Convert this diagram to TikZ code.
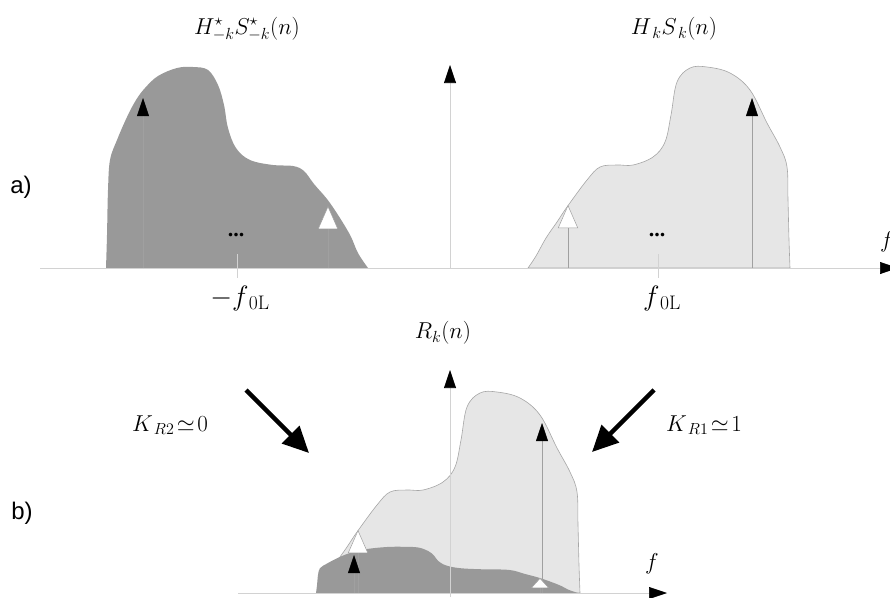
\RequirePackage{fix-cm}
\documentclass[tikz,border=0pt]{standalone}
\usepackage{fontspec}
\newfontfamily\labelfont{Liberation Sans}
\newfontfamily\dotfont{Liberation Serif}
\usetikzlibrary{arrows.meta}
\usepackage{xcolor}
\definecolor{DarkBand}{HTML}{999999}
\definecolor{LightBand}{HTML}{E6E6E6}
\definecolor{BandEdge}{HTML}{A6A6A6}
\definecolor{StemGray}{HTML}{A0A0A0}
\definecolor{AxisGray}{HTML}{D2D2D2}

% spectrum outlines, pixel coordinates, baseline at y=268
\newcommand{\negspectrum}{plot[smooth, tension=0.6] coordinates {
    (106,268) (107,235) (108,190) (110,160) (117,140) (127,117) (136,100)
    (145,88) (158,76) (177,68) (193,67) (208,70) (218,85) (224,105)
    (228,128) (236,148) (250,160) (273,165) (293,166) (304,171) (314,184)
    (330,203) (349,233) (358,253) (368,268)}}
\newcommand{\posspectrum}{plot[smooth, tension=0.6] coordinates {
    (528,268) (536,256) (546,238) (557,222) (567,207) (587,180) (600,167)
    (617,165) (633,165) (653,157) (665,142) (671,115) (677,82) (690,68)
    (707,67) (730,73) (750,90) (767,123) (780,147) (787,167) (788,200)
    (789,240) (790,268)}}

\begin{document}
\begin{tikzpicture}[
    x=1pt, y=-1pt,
    axis/.style={draw=AxisGray, line width=0.6pt},
    stem/.style={draw=StemGray, line width=0.5pt},
    fulltip/.style={-{Triangle[length=18pt, width=12pt, color=black]}},
    hollowtip/.style={-{Triangle[length=23pt, width=20pt, color=StemGray, fill=white]}},
    flattip/.style={-{Triangle[length=10pt, width=18pt, color=StemGray, fill=white]}},
    bigarr/.style={line width=4.5pt, -{Triangle[length=26pt, width=24pt]}},
    darkband/.style={fill=DarkBand},
    lightband/.style={fill=LightBand, draw=BandEdge, line width=0.6pt},
    lbl/.style={font=\fontsize{23}{27}\selectfont},
    biglbl/.style={font=\fontsize{28}{32}\selectfont},
    dots/.style={font=\dotfont\bfseries\fontsize{22}{26}\selectfont, anchor=base},
    tag/.style={font=\labelfont\fontsize{24}{28}\selectfont}
]
\useasboundingbox (0,0) rectangle (890,597);

% === a) two-sided spectrum ===
\fill[darkband] \negspectrum -- cycle;
\filldraw[lightband] \posspectrum -- cycle;

\coordinate (ax0) at (40,268);
\coordinate (ax1) at (898,268);
\coordinate (ay0) at (450,268);
\coordinate (ay1) at (450,65);
\draw[axis, -{Triangle[length=18pt, width=12pt, color=black]}] (ax0) -- (ax1);
\draw[axis, fulltip] (ay0) -- (ay1);

\draw[stem, fulltip] (143,268) -- (143,98);
\draw[stem, hollowtip] (328,268) -- (328,206);
\draw[stem, hollowtip] (568,268) -- (568,205);
\draw[stem, fulltip] (752,268) -- (752,98);

\draw[axis] (237,254) -- (237,278);
\draw[axis] (658,254) -- (658,278);
\node[dots] (dneg) at (236,236) {...};
\node[dots] (dpos) at (657,236) {...};

\node[lbl] (hneg) at (247,29) {$H^{\star}_{-k}S^{\star}_{-k}(n)$};
\node[lbl] (hpos) at (674,29) {$H_{\,k}S_{\,k}(n)$};
\node[biglbl] (fneg) at (240,298) {$-f_{\,\mathrm{0L}}$};
\node[biglbl] (fpos) at (662,298) {$f_{\,\mathrm{0L}}$};
\node[lbl] (fa) at (887,242) {$f$};
\node[tag] (taga) at (21,187) {a)};

% === b) after the band filter ===
\begin{scope}[shift={(-210,325)}]
\filldraw[lightband] \posspectrum -- cycle;
\end{scope}
\begin{scope}[shift={(210,593)}, yscale=0.23, shift={(0,-268)}]
\fill[darkband] \negspectrum -- cycle;
\end{scope}

\draw[stem, hollowtip] (358,593) -- (358,530);
\draw[stem, fulltip] (354,593) -- (354,555);
\draw[stem, fulltip] (542,593) -- (542,423);
\draw[stem, flattip] (540,593) -- (540,578);

\coordinate (bx0) at (238,593);
\coordinate (bx1) at (667,593);
\coordinate (by0) at (450,597);
\coordinate (by1) at (450,370);
\draw[axis, -{Triangle[length=18pt, width=12pt, color=black]}] (bx0) -- (bx1);
\draw[axis, fulltip] (by0) -- (by1);

\node[lbl] (rk) at (443,333) {$R_k(n)$};
\node[lbl] (fb) at (652,564) {$f$};
\node[tag] (tagb) at (22,513) {b)};

% === weighting arrows ===
\node[lbl] (kr2) at (170,425) {$K_{\,R2}\!\simeq\!0$};
\node[lbl] (kr1) at (704,425) {$K_{\,R1}\!\simeq\!1$};
\coordinate (k2from) at (246,390);
\coordinate (k2to) at (309,453);
\coordinate (k1from) at (654,390);
\coordinate (k1to) at (592,452);
\draw[bigarr] (k2from) -- (k2to);
\draw[bigarr] (k1from) -- (k1to);

\end{tikzpicture}
\end{document}
